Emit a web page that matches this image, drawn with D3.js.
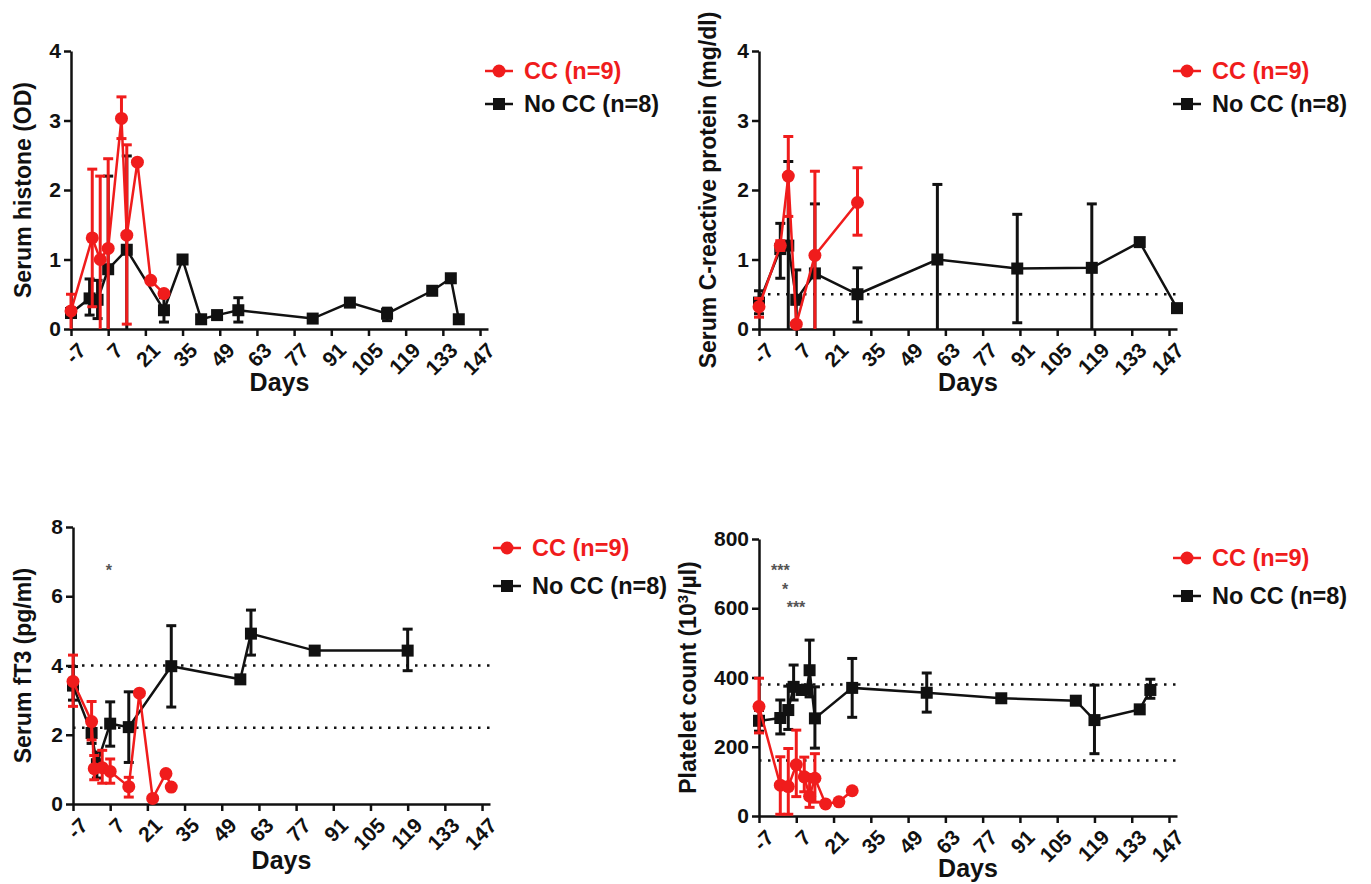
<!DOCTYPE html>
<html>
<head>
<meta charset="utf-8">
<script src="https://cdn.jsdelivr.net/npm/d3@7"></script>
<style>
  body { margin: 0; background: #fff; }
  svg { display: block; }
  text { font-family: "Liberation Sans", Arial, sans-serif; font-weight: bold; }
</style>
</head>
<body>
<svg id="chart" width="1371" height="884"></svg>
<script>
// --- Data ---
// each row: [day, mean, error top, error bottom]  (null = no visible bar)
const xTicks = [-7, 7, 21, 35, 49, 63, 77, 91, 105, 119, 133, 147];
const seriesNames = ['CC (n=9)', 'No CC (n=8)'];

const histoneCC = [[-7, 0.26, 0.5, 0], [1, 1.31, 2.3, 0.32], [4, 1.0, 2.2, 0], [7, 1.16, 2.45, 0],
  [12, 3.03, 3.34, 2.74], [14, 1.35, 2.65, 0.07], [18, 2.40, null, null], [23, 0.70, null, null], [28, 0.51, null, null]];
const histoneNoCC = [[-7, 0.23, 0.3, 0.17], [0, 0.44, 0.72, 0.2], [3, 0.42, 0.7, 0.15], [7, 0.86, 2.2, 0],
  [14, 1.14, 2.49, 0], [28, 0.27, 0.45, 0.1], [35, 1.0, null, null], [42, 0.14, null, null], [48, 0.2, null, null],
  [56, 0.27, 0.45, 0.1], [84, 0.15, null, null], [98, 0.38, null, null], [112, 0.22, 0.3, 0.12],
  [129, 0.55, null, null], [136, 0.73, null, null], [139, 0.14, null, null]];
const histoneTicks = [0, 1, 2, 3, 4];

const crpCC = [[-7, 0.32, 0.44, 0.17], [1, 1.2, 1.27, 1.13], [4, 2.2, 2.77, 1.62], [7, 0.07, null, null],
  [14, 1.06, 2.27, 0], [30, 1.82, 2.32, 1.35]];
const crpNoCC = [[-7, 0.38, 0.55, 0.22], [1, 1.15, 1.52, 0.73], [4, 1.2, 2.41, 0], [7, 0.42, 0.85, 0],
  [14, 0.8, 1.8, 0], [30, 0.5, 0.88, 0.1], [60, 1.0, 2.08, 0], [90, 0.87, 1.65, 0.09], [118, 0.88, 1.8, 0],
  [136, 1.25, null, null], [150, 0.3, null, null]];
const crpTicks = [0, 1, 2, 3, 4];
const crpRef = [0.5];

const ft3CC = [[-7, 3.54, 4.3, 2.82], [0, 2.38, 2.96, 1.85], [1, 1.02, 1.4, 0.7], [4, 1.05, 1.55, 0.6],
  [7, 0.94, 1.3, 0.6], [14, 0.5, 0.77, 0.2], [18, 3.2, null, null], [23, 0.16, null, null],
  [28, 0.88, null, null], [30, 0.49, null, null]];
const ft3NoCC = [[-7, 3.42, 3.97, 3.0], [0, 2.05, 2.35, 1.75], [2, 1.15, 1.5, 0.75], [7, 2.32, 2.95, 1.67],
  [14, 2.22, 3.24, 1.2], [30, 3.98, 5.15, 2.8], [56, 3.6, null, null], [60, 4.92, 5.6, 4.3],
  [84, 4.43, null, null], [119, 4.43, 5.05, 3.85]];
const ft3Ticks = [0, 2, 4, 6, 8];
const ft3Ref = [4.0, 2.2];
const ft3Stars = [[6.5, 6.85, '*']];

const pltCC = [[-7, 316, 398, 240], [1, 89, 171, 5], [4, 85, 195, 5], [7, 148, 248, 56], [10, 113, 170, 70],
  [12, 57, 120, 25], [14, 109, 180, 40], [18, 35, null, null], [23, 41, null, null], [28, 73, null, null]];
const pltNoCC = [[-7, 275, 305, 245], [1, 283, 335, 237], [4, 306, 375, 250], [6, 373, 436, 335],
  [9, 364, null, null], [11, 365, null, null], [12, 421, 508, 344], [14, 282, 373, 196], [28, 370, 455, 285],
  [56, 356, 413, 300], [84, 340, null, null], [112, 333, null, null], [119, 277, 378, 180],
  [136, 308, null, null], [140, 364, 395, 340]];
const pltTicks = [0, 200, 400, 600, 800];
const pltRef = [380, 160];
const pltStars = [[1, 718, '***'], [2.8, 664, '*'], [6.9, 612, '***']];

// --- Layout ---
const RED = '#f01c1c', BLACK = '#111';
const panels = [
  { cc: histoneCC, no: histoneNoCC, yTicks: histoneTicks, ref: [], stars: [],
    x0: 71, x1: 488, y0: 329, y1: 51, title: 'Serum histone (OD)', titleX: 23,
    daysY: 391, legX: 499, legY: [71, 104] },
  { cc: crpCC, no: crpNoCC, yTicks: crpTicks, ref: crpRef, stars: [],
    x0: 759, x1: 1177, y0: 329, y1: 51, title: 'Serum C-reactive protein (mg/dl)', titleX: 708,
    daysY: 391, legX: 1187, legY: [71, 104] },
  { cc: ft3CC, no: ft3NoCC, yTicks: ft3Ticks, ref: ft3Ref, stars: ft3Stars,
    x0: 73, x1: 490, y0: 804, y1: 527, title: 'Serum fT3 (pg/ml)', titleX: 23,
    daysY: 869, legX: 507, legY: [548, 586] },
  { cc: pltCC, no: pltNoCC, yTicks: pltTicks, ref: pltRef, stars: pltStars,
    x0: 759, x1: 1177, y0: 816, y1: 539, title: 'Platelet count (10', titleSup: '3', titleEnd: '/µl)', titleX: 688,
    daysY: 877, legX: 1187, legY: [558, 596] }
];

const svg = d3.select('#chart');

function marker(g, kind, color, cx, cy) {
  if (kind === 'circle') {
    g.append('circle').attr('cx', cx).attr('cy', cy).attr('r', 6.5).attr('fill', color);
  } else {
    g.append('rect').attr('x', cx - 6).attr('y', cy - 6).attr('width', 12).attr('height', 12).attr('fill', color);
  }
}

function drawSeries(g, data, x, y, color, kind) {
  const bars = g.append('g').attr('stroke', color).attr('stroke-width', 3);
  data.filter(d => d[2] !== null).forEach(d => {
    const cx = x(d[0]);
    const top = y(d[2]), bot = y(Math.max(0, d[3]));
    bars.append('line').attr('x1', cx).attr('x2', cx).attr('y1', top).attr('y2', bot);
    bars.append('line').attr('x1', cx - 5).attr('x2', cx + 5).attr('y1', top).attr('y2', top);
    if (d[3] > 0) bars.append('line').attr('x1', cx - 5).attr('x2', cx + 5).attr('y1', bot).attr('y2', bot);
  });
  const line = d3.line().x(d => x(d[0])).y(d => y(d[1]));
  g.append('path').datum(data).attr('d', line)
    .attr('fill', 'none').attr('stroke', color).attr('stroke-width', 2.5);
  data.forEach(d => marker(g, kind, color, x(d[0]), y(d[1])));
}

panels.forEach(p => {
  const x = d3.scaleLinear().domain([-7, 150]).range([p.x0, p.x1]);
  const yMax = p.yTicks[p.yTicks.length - 1];
  const y = d3.scaleLinear().domain([0, yMax]).range([p.y0, p.y1]);
  const g = svg.append('g');

  // reference ranges
  p.ref.forEach(v => {
    g.append('line').attr('x1', p.x0).attr('x2', p.x1).attr('y1', y(v)).attr('y2', y(v))
      .attr('stroke', BLACK).attr('stroke-width', 2.5).attr('stroke-dasharray', '2.5,6.5');
  });

  // axes
  const xAxis = g.append('g').attr('transform', `translate(0,${p.y0})`)
    .call(d3.axisBottom(x).tickValues(xTicks).tickFormat(d => String(d)).tickSize(7).tickSizeOuter(0));
  xAxis.selectAll('text')
    .attr('y', 0).attr('dy', '0.72em')
    .attr('transform', 'translate(5,12) rotate(-45)')
    .style('text-anchor', 'end');
  const yAxis = g.append('g').attr('transform', `translate(${p.x0},0)`)
    .call(d3.axisLeft(y).tickValues(p.yTicks).tickFormat(d => String(d)).tickSize(7).tickSizeOuter(0).tickPadding(3));
  [xAxis, yAxis].forEach(a => {
    a.selectAll('path, line').attr('stroke', BLACK).attr('stroke-width', 2.5);
    a.selectAll('text').attr('fill', BLACK).attr('font-size', 21)
      .attr('font-family', '"Liberation Sans", Arial, sans-serif').attr('font-weight', 'bold');
  });

  // axis titles
  g.append('text').attr('x', (p.x0 + p.x1) / 2).attr('y', p.daysY)
    .attr('text-anchor', 'middle').attr('font-size', 25).attr('fill', BLACK).text('Days');
  const t = g.append('text')
    .attr('transform', `translate(${p.titleX},${(p.y0 + p.y1) / 2}) rotate(-90)`)
    .attr('text-anchor', 'middle').attr('dy', '0.35em').attr('font-size', 23).attr('fill', BLACK);
  t.append('tspan').text(p.title);
  if (p.titleSup) {
    t.append('tspan').attr('font-size', 15).attr('baseline-shift', 'super').text(p.titleSup);
    t.append('tspan').text(p.titleEnd);
  }

  // data
  drawSeries(g, p.no, x, y, BLACK, 'square');
  drawSeries(g, p.cc, x, y, RED, 'circle');

  // significance stars
  p.stars.forEach(s => {
    g.append('text').attr('x', x(s[0])).attr('y', y(s[1]) + 9)
      .attr('text-anchor', 'middle').attr('font-size', 16).attr('font-weight', 'normal')
      .attr('fill', '#555').text(s[2]);
  });

  // legend
  [[RED, 'circle', seriesNames[0]], [BLACK, 'square', seriesNames[1]]].forEach((l, i) => {
    const ly = p.legY[i];
    g.append('line').attr('x1', p.legX - 14).attr('x2', p.legX + 14).attr('y1', ly).attr('y2', ly)
      .attr('stroke', l[0]).attr('stroke-width', 2.5);
    marker(g, l[1], l[0], p.legX, ly);
    g.append('text').attr('x', p.legX + 25).attr('y', ly).attr('dy', '0.36em')
      .attr('font-size', 23.5).attr('fill', l[0]).text(l[2]);
  });
});
</script>
</body>
</html>
